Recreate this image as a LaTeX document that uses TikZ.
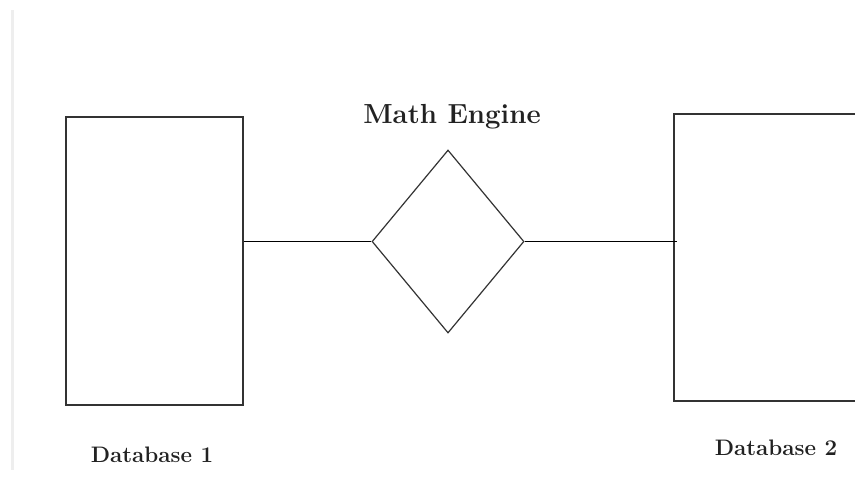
\documentclass[tikz,border=0pt]{standalone}
\usepackage{xcolor}
\usepackage{tikz}
\usetikzlibrary{positioning, shapes.geometric}
\definecolor{boxgrey}{HTML}{333333}
\definecolor{rulegrey}{HTML}{EEEEEE}
\definecolor{inkgrey}{HTML}{222222}

\tikzset{
  dbbox/.style={draw=boxgrey, line width=0.8pt, inner sep=0pt},
  engine/.style={diamond, draw=boxgrey, line width=0.6pt, inner sep=0pt,
                 minimum width=76pt, minimum height=91.5pt},
  link/.style={draw=black, line width=0.6pt},
  dblabel/.style={text=inkgrey, font=\fontsize{11.2}{13}\selectfont\bfseries},
  enginelabel/.style={text=inkgrey, font=\fontsize{13.8}{16}\selectfont\bfseries}
}

\begin{document}
\begin{tikzpicture}[x=0.5pt, y=-0.5pt]
  \useasboundingbox (0,0) rectangle (855,479);
  \clip (0,0) rectangle (855,479);
  \fill[white] (0,0) rectangle (855,479);
  \draw[rulegrey, line width=1.5pt] (12,10) -- (12,470);

  % databases and the engine between them
  \node[dbbox, minimum width=88.5pt, minimum height=144pt] (db1) at (154.5,261) {};
  \node[dbbox, minimum width=110pt, minimum height=143.5pt] (db2) at (784,257.5) {};
  \node[engine] (engine) at (448,241.5) {};

  \node[enginelabel] (enginename) at (452,117) {Math Engine};
  \node[dblabel] (db1name) at (152,455) {Database 1};
  \node[dblabel] (db2name) at (776,448) {Database 2};

  \draw[link] (engine.west -| db1.east) -- (engine.west);
  \draw[link, shorten >=-2pt] (engine.east) -- (engine.east -| db2.west);
\end{tikzpicture}
\end{document}
